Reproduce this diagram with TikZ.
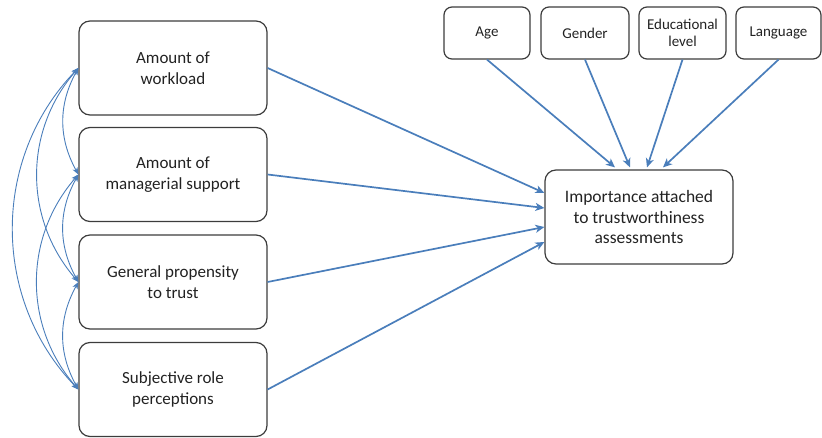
\documentclass[tikz,border=0pt]{standalone}
\usepackage{fontspec}
\setmainfont{Carlito}
\usetikzlibrary{arrows.meta}
\definecolor{arrowblue}{HTML}{4A7EBB}
\definecolor{boxgray}{HTML}{3C3C3C}
\definecolor{txtgray}{HTML}{222222}
\begin{document}
\begin{tikzpicture}[x=1pt,y=-1pt,
  bigbox/.style={draw=boxgray,line width=1.2pt,rounded corners=11pt,align=center,
    minimum width=188pt,minimum height=94pt,inner sep=0pt,text=txtgray,
    font=\fontsize{17}{20.5}\selectfont},
  smallbox/.style={draw=boxgray,line width=1.2pt,rounded corners=8pt,align=center,
    minimum height=52pt,inner sep=0pt,text=txtgray,
    font=\fontsize{15}{17}\selectfont},
  conn/.style={draw=arrowblue,line width=1.7pt,-{Stealth[length=9pt,width=8pt,inset=2.5pt]}},
  corr/.style={draw=arrowblue,line width=0.9pt,{Stealth[length=7pt,width=5.5pt,inset=2pt]}-{Stealth[length=7pt,width=5.5pt,inset=2pt]}}
]
\useasboundingbox (0,0) rectangle (822,438);
\node[bigbox] (b1) at (173,68) {Amount of\\workload};
\node[bigbox] (b2) at (173,174.5) {Amount of\\managerial support};
\node[bigbox] (b3) at (173,282) {General propensity\\to trust};
\node[bigbox] (b4) at (173,389.5) {Subjective role\\perceptions};
\node[smallbox,minimum width=86pt] (age) at (487,33) {Age};
\node[smallbox,minimum width=88pt] (gen) at (585,33) {Gender};
\node[smallbox,minimum width=87pt] (edu) at (682.5,33) {Educational\\level};
\node[smallbox,minimum width=85pt] (lan) at (778.5,33) {Language};
\node[bigbox,font=\fontsize{17.5}{20.5}\selectfont] (imp) at (639,217) {Importance attached\\to trustworthiness\\assessments};
% main effects
\draw[conn] (b1.east) -- ([yshift=24pt]imp.west);
\draw[conn] (b2.east) -- ([yshift=9pt]imp.west);
\draw[conn] (b3.east) -- ([yshift=-10pt]imp.west);
\draw[conn] (b4.east) -- ([yshift=-25pt]imp.west);
% control variables
\draw[conn] (age.south) -- ([xshift=-24pt,yshift=2pt]imp.north);
\draw[conn] (gen.south) -- ([xshift=-9pt,yshift=2pt]imp.north);
\draw[conn] (edu.south) -- ([xshift=8pt,yshift=2pt]imp.north);
\draw[conn] (lan.south) -- ([xshift=24pt,yshift=2pt]imp.north);
% correlations
\draw[corr] (b1.west) to[bend right=29] (b2.west);
\draw[corr] (b2.west) to[bend right=29] (b3.west);
\draw[corr] (b3.west) to[bend right=29] (b4.west);
\draw[corr] (b1.west) to[bend right=41] (b3.west);
\draw[corr] (b2.west) to[bend right=41] (b4.west);
\draw[corr] (b1.west) to[bend right=44] (b4.west);
\end{tikzpicture}
\end{document}
